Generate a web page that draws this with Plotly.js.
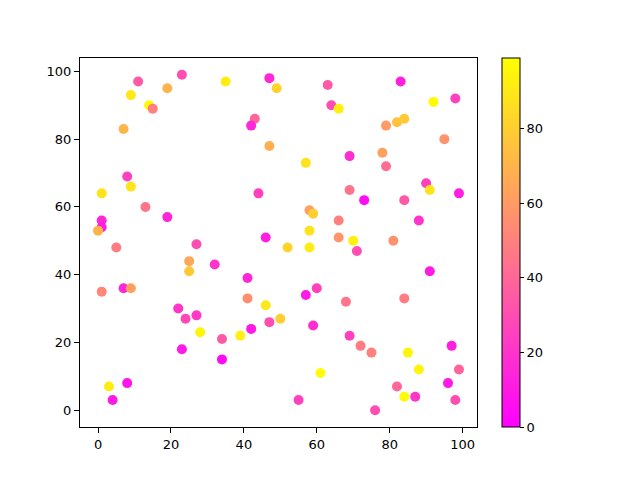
<!DOCTYPE html>
<html>
<head>
<meta charset="utf-8">
<script src="https://cdn.plot.ly/plotly-3.0.1.min.js"></script>
<style>
  html, body { margin: 0; padding: 0; background: #fff; }
  #chart { width: 640px; height: 480px; }
</style>
</head>
<body>
<div id="chart"></div>
<script>
const xs = [11, 23, 35, 47, 49, 9, 19, 14, 15, 7,
  43, 42, 47, 8, 9, 1, 13, 44, 19, 1,
  1, 0, 46, 27, 63, 83, 92, 98, 64, 66,
  79, 82, 84, 95, 69, 78, 79, 57, 69, 90,
  91, 99, 73, 84, 58, 59, 66, 88, 58, 66,
  70, 81, 52, 58, 71, 91, 57, 60, 68, 84,
  50, 47, 59, 69, 72, 75, 85, 97, 61, 88,
  99, 82, 96, 84, 87, 98, 55, 76, 5, 25,
  25, 32, 41, 1, 7, 9, 41, 46, 22, 24,
  27, 28, 34, 39, 42, 23, 34, 3, 8, 4];

const ys = [97, 99, 97, 98, 95, 93, 95, 90, 89, 83,
  86, 84, 78, 69, 66, 64, 60, 64, 57, 56,
  54, 53, 51, 49, 96, 97, 91, 92, 90, 89,
  84, 85, 86, 80, 75, 76, 72, 73, 65, 67,
  65, 64, 62, 62, 59, 58, 56, 56, 53, 51,
  50, 50, 48, 48, 47, 41, 34, 36, 32, 33,
  27, 26, 25, 22, 19, 17, 17, 19, 11, 12,
  12, 7, 8, 4, 4, 3, 3, 0, 48, 44,
  41, 43, 39, 35, 36, 36, 33, 31, 30, 27,
  28, 23, 21, 22, 24, 18, 15, 7, 8, 3];

const colors = [35, 30, 92, 15, 82, 90, 70, 97, 50, 70,
  40, 15, 68, 25, 88, 88, 45, 25, 15, 15,
  12, 70, 12, 30, 35, 12, 97, 25, 30, 93,
  60, 75, 78, 57, 18, 62, 42, 88, 45, 25,
  88, 12, 5, 35, 62, 80, 50, 20, 88, 58,
  93, 57, 82, 92, 30, 10, 10, 25, 45, 48,
  80, 30, 18, 25, 48, 50, 95, 12, 98, 95,
  38, 40, 10, 97, 20, 30, 25, 30, 48, 65,
  78, 20, 15, 52, 15, 62, 55, 90, 20, 28,
  22, 95, 35, 93, 10, 10, 5, 92, 8, 10];

const colorTicks = [0, 20, 40, 60, 80];

const trace = {
  x: xs,
  y: ys,
  type: 'scatter',
  mode: 'markers',
  hoverinfo: 'x+y',
  marker: {
    size: 10,
    color: colors,
    cmin: 0,
    cmax: 99,
    colorscale: [[0, 'rgb(255,0,255)'], [1, 'rgb(255,255,0)']],
    line: { width: 0 },
    colorbar: {
      x: 1.063,
      xanchor: 'left',
      y: 0,
      yanchor: 'bottom',
      len: 1,
      thickness: 18,
      outlinewidth: 1,
      outlinecolor: 'black',
      tickvals: colorTicks,
      ticktext: colorTicks.map(String),
      ticks: 'outside',
      ticklen: 4,
      tickcolor: 'black',
      tickfont: { family: 'DejaVu Sans', size: 13, color: 'black' },
      xpad: 0,
      ypad: 0,
    },
  },
};

const axisStyle = {
  range: [-4.95, 103.95],
  tickvals: [0, 20, 40, 60, 80, 100],
  showgrid: false,
  zeroline: false,
  showline: true,
  mirror: true,
  linecolor: 'black',
  linewidth: 1,
  ticks: 'outside',
  ticklen: 5,
  tickcolor: 'black',
  tickfont: { family: 'DejaVu Sans', size: 13, color: 'black' },
};

const layout = {
  width: 640,
  height: 480,
  paper_bgcolor: 'white',
  plot_bgcolor: 'white',
  showlegend: false,
  xaxis: Object.assign({}, axisStyle),
  yaxis: Object.assign({}, axisStyle),
  margin: { l: 80, r: 163, t: 58, b: 53 },
};

Plotly.newPlot('chart', [trace], layout, { displayModeBar: false, staticPlot: true });
</script>
</body>
</html>
